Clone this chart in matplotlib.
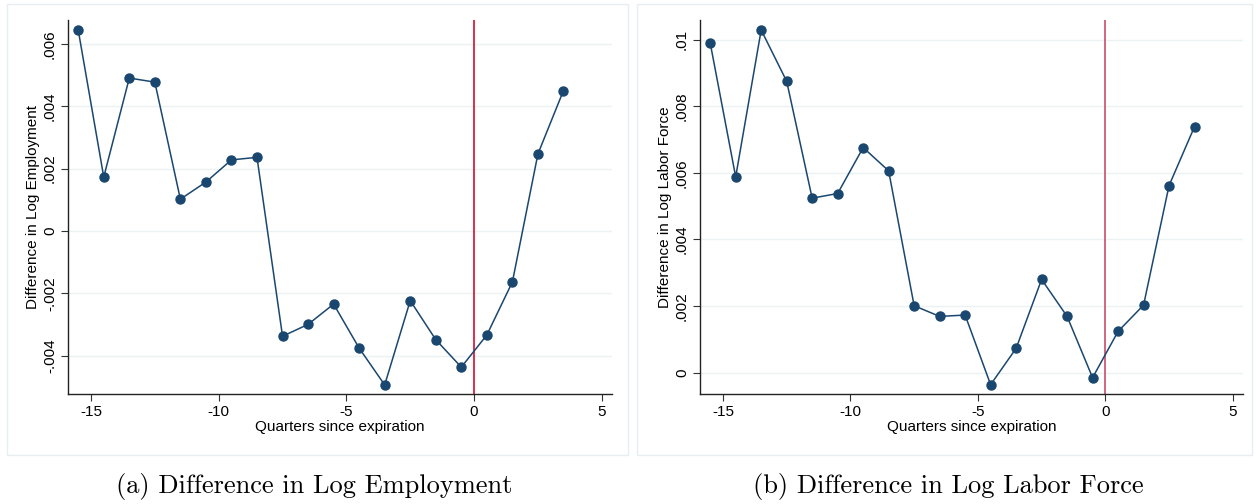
import numpy as np
import matplotlib
matplotlib.use('Agg')
import matplotlib.pyplot as plt
from matplotlib.patches import Rectangle

# quarters since expiration (bin midpoints)
quarters = [-15.5, -14.5, -13.5, -12.5, -11.5, -10.5, -9.5, -8.5, -7.5, -6.5,
            -5.5, -4.5, -3.5, -2.5, -1.5, -0.5, 0.5, 1.5, 2.5, 3.5]

# difference in log employment
emp = [0.00644, 0.00173, 0.00490, 0.00477, 0.00102, 0.00157, 0.00228, 0.00236,
       -0.00337, -0.00299, -0.00234, -0.00375, -0.00493, -0.00223, -0.00348,
       -0.00436, -0.00333, -0.00163, 0.00247, 0.00450]

# difference in log labor force
lab = [0.00990, 0.00588, 0.01029, 0.00875, 0.00524, 0.00538, 0.00676, 0.00606,
       0.00201, 0.00169, 0.00173, -0.00036, 0.00073, 0.00280, 0.00169,
       -0.00015, 0.00124, 0.00203, 0.00562, 0.00739]

emp_ticks = [-0.004, -0.002, 0, 0.002, 0.004, 0.006]
emp_labels = ['-.004', '-.002', '0', '.002', '.004', '.006']
lab_ticks = [0, 0.002, 0.004, 0.006, 0.008, 0.01]
lab_labels = ['0', '.002', '.004', '.006', '.008', '.01']

navy = '#1a476f'
grid_c = '#eaf2f3'
W, H = 1256, 504

fig = plt.figure(figsize=(W / 100, H / 100), dpi=100)

# light outer frames like Stata graph regions
for x0, x1 in [(7, 628), (637, 1252)]:
    fig.patches.append(Rectangle((x0 / W, 1 - 455 / H), (x1 - x0) / W, (455 - 4) / H,
                                 transform=fig.transFigure, fill=False,
                                 edgecolor='#e6eef0', linewidth=1.0))


def panel(left, right, y, ticks, labels, ylim, ylabel, vcolor):
    ax = fig.add_axes([left / W, 1 - 394 / H, (right - left) / W, (394 - 20) / H])
    ax.plot(quarters, y, color=navy, linewidth=1.1, marker='o', markersize=6.5,
            zorder=3)
    ax.axvline(0, color=vcolor, linewidth=1.2, zorder=2)
    ax.set_xlim(-15.9, 5.4)
    ax.set_ylim(*ylim)
    ax.set_xticks([-15, -10, -5, 0, 5])
    ax.set_xticklabels(['-15', '-10', '-5', '0', '5'])
    ax.set_yticks(ticks)
    ax.set_yticklabels(labels, rotation=90, va='center')
    for t in ticks:
        ax.axhline(t, color=grid_c, linewidth=1.0, zorder=0)
    for s in ['top', 'right']:
        ax.spines[s].set_visible(False)
    for s in ['left', 'bottom']:
        ax.spines[s].set_linewidth(1.0)
        ax.spines[s].set_color('#222222')
    ax.tick_params(direction='out', length=5, width=0.8, labelsize=11, pad=3,
                   color='#333333')
    ax.set_xlabel('Quarters since expiration', fontsize=11, labelpad=1)
    ax.set_ylabel(ylabel, fontsize=11, labelpad=2)
    return ax


plt.rcParams['font.family'] = ['Liberation Sans', 'DejaVu Sans']

panel(68, 612, emp, emp_ticks, emp_labels, (-0.00522, 0.00676),
      'Difference in Log Employment', '#dc0a2c')
panel(700, 1243, lab, lab_ticks, lab_labels, (-0.00064, 0.01059),
      'Difference in Log Labor Force', '#cc4c6c')

fig.text(314 / W, 1 - 487 / H, '(a) Difference in Log Employment',
         ha='center', va='center', fontsize=19, family=['cmr10', 'DejaVu Serif'])
fig.text(948 / W, 1 - 487 / H, '(b) Difference in Log Labor Force',
         ha='center', va='center', fontsize=19, family=['cmr10', 'DejaVu Serif'])

fig.savefig('out.png', dpi=100)
